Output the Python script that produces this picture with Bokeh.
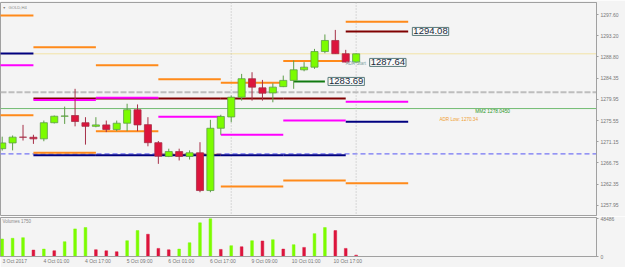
import math
from bokeh.plotting import figure
from bokeh.models import Range1d, FixedTicker, PrintfTickFormatter, Span, Label, ColumnDataSource
from bokeh.layouts import column
from bokeh.embed import file_html
from bokeh.resources import INLINE

# ---------------- data ----------------
symbol = "GOLD,H4"
bars = list(range(35))
opens = [1269.70, 1270.90, 1272.10, 1272.08, 1271.75, 1275.10, 1276.45, 1276.60, 1275.10, 1274.35,
         1274.65, 1273.70, 1275.00, 1277.80, 1274.70, 1270.95, 1268.10, 1269.10, 1268.10, 1268.85,
         1261.00, 1273.95, 1276.30, 1280.40, 1284.25, 1282.35, 1281.30, 1282.60, 1283.90, 1286.10,
         1286.65, 1289.90, 1292.20, 1289.45, 1287.70]
highs = [1272.20, 1272.45, 1274.65, 1272.60, 1275.55, 1276.60, 1278.45, 1282.15, 1276.25, 1276.25,
         1275.55, 1275.55, 1279.05, 1278.90, 1276.25, 1271.30, 1269.70, 1269.70, 1269.35, 1271.05,
         1275.70, 1276.75, 1280.75, 1285.25, 1285.60, 1284.00, 1283.30, 1284.90, 1288.05, 1287.70,
         1290.45, 1293.45, 1294.40, 1290.25, 1289.50]
lows = [1269.30, 1269.35, 1271.40, 1270.70, 1271.25, 1274.95, 1274.85, 1274.35, 1270.55, 1274.15,
        1273.15, 1273.35, 1273.35, 1273.35, 1270.20, 1266.55, 1267.95, 1267.25, 1267.45, 1260.65,
        1260.65, 1272.60, 1275.20, 1279.70, 1279.70, 1279.70, 1279.35, 1282.50, 1282.15, 1285.80,
        1286.30, 1289.55, 1289.40, 1287.65, 1287.60]
closes = [1270.90, 1272.10, 1272.08, 1271.75, 1275.10, 1276.45, 1276.50, 1275.35, 1274.35, 1274.65,
          1273.70, 1275.00, 1277.80, 1274.65, 1270.95, 1268.15, 1269.10, 1268.10, 1268.85, 1261.00,
          1273.95, 1276.40, 1280.40, 1284.25, 1282.50, 1281.25, 1282.50, 1283.90, 1286.10, 1286.65,
          1289.90, 1292.20, 1289.45, 1287.70, 1289.43]
volumes = [22500, 23400, 24200, 8200, 9500, 7400, 19000, 35500, 37200, 8700,
           7300, 6100, 20300, 33300, 28600, 10400, 8600, 9500, 17700, 43300,
           48486, 9100, 13900, 12500, 20300, 19900, 21600, 9500, 15200, 11700,
           29400, 37200, 33300, 10400, 1750]

time_tick_bars = [0, 4, 8, 12, 16, 20, 24, 28, 32]
time_tick_labels = ["3 Oct 2017", "4 Oct 01:00", "4 Oct 17:00", "5 Oct 09:00", "6 Oct 01:00",
                    "6 Oct 17:00", "9 Oct 09:00", "10 Oct 01:00", "10 Oct 17:00"]
price_ticks = [1257.95, 1262.35, 1266.75, 1271.15, 1275.55, 1279.95, 1284.35, 1288.80, 1293.20, 1297.60]
volume_ticks = [0, 48486]

day_start = [-3, 3, 9, 15, 21, 27, 33]
day_end = [3, 9, 15, 21, 27, 33, 39]
adr_high = [1297.39, 1290.80, 1287.06, 1284.15, 1283.40, 1287.93, 1296.08]
adr_low = [1276.66, 1268.85, 1273.34, 1268.43, 1261.84, 1263.09, 1262.53]
magenta_lvl = [1287.06, 1279.82, 1280.28, 1276.33, 1272.59, 1275.56, 1279.44]
maroon_lvl = [float("nan"), 1280.14, 1280.14, 1280.14, 1280.14, 1280.14, 1294.08]
navy_lvl = [1289.49, 1268.35, 1268.35, 1268.35, 1268.35, 1268.35, 1275.29]

signal_start = [28]
signal_end = [31]
signal_level = [1283.69]

current_price = 1289.43
mm2_level = 1278.0450
grey_dash_level = 1281.45
blue_dash_level = 1268.64
adr_start_level = 1287.64
adr_low_text_level = 1275.83
adr_low_value = 1270.34
marker_bars = [22, 34]

# ---------------- styles ----------------
FONT = "Liberation Sans"
BG = "#F4F4F4"
FRAME = "#A0A0A0"
BULL = "#7CFC00"
BEAR = "#DC143C"
BULL_LINE = "#5E9E48"
BEAR_LINE = "#A63048"
AXIS_TXT = "#777777"

x_range = Range1d(-0.163, 57.09)

p = figure(width=625, height=216, title=None, x_range=x_range, y_range=Range1d(1255.812, 1300.095),
           output_backend="svg", toolbar_location=None, x_axis_location=None, y_axis_location="right",
           min_border_left=0, min_border_right=29, min_border_top=2, min_border_bottom=1,
           background_fill_color=BG, border_fill_color=BG, outline_line_color=FRAME)
p.grid.visible = False
ya = p.yaxis[0]
ya.ticker = FixedTicker(ticks=price_ticks)
ya.formatter = PrintfTickFormatter(format="%.2f")
ya.axis_line_color = FRAME
ya.major_tick_line_color = FRAME
ya.major_tick_out = 2
ya.major_tick_in = 0
ya.minor_tick_line_color = None
ya.major_label_text_font = FONT
ya.major_label_text_font_size = "5px"
ya.major_label_text_color = AXIS_TXT
ya.major_label_standoff = 2

# full width lines
for loc, col, dash, lw in [(current_price, "#F2E3A6", "solid", 1),
                           (mm2_level, "#72BB72", "solid", 1),
                           (grey_dash_level, "#BDBDBD", "6 2", 2),
                           (blue_dash_level, "#7474F4", "5 3", 1.3)]:
    p.add_layout(Span(location=loc, dimension="width", line_color=col, line_dash=dash,
                      line_width=lw, level="underlay"))
for b in marker_bars:
    p.add_layout(Span(location=b, dimension="height", line_color="#B8B8B8", line_dash="1 2",
                      line_width=1, level="underlay"))

# level segments per day
p.segment(x0=day_start, x1=day_end, y0=adr_low, y1=adr_low, line_color="#FF8A1A", line_width=2)
p.segment(x0=day_start, x1=day_end, y0=navy_lvl, y1=navy_lvl, line_color="#000080", line_width=2)
p.segment(x0=day_start, x1=day_end, y0=maroon_lvl, y1=maroon_lvl, line_color="#800000", line_width=2)
p.segment(x0=day_start, x1=day_end, y0=magenta_lvl, y1=magenta_lvl, line_color="#FF00FF", line_width=2)
p.segment(x0=day_start, x1=day_end, y0=adr_high, y1=adr_high, line_color="#FF8A1A", line_width=2)
p.segment(x0=signal_start, x1=signal_end, y0=signal_level, y1=signal_level, line_color="#107A10", line_width=2)

# candles
up = [c >= o for o, c in zip(opens, closes)]
src = ColumnDataSource(dict(
    x=bars, high=highs, low=lows,
    top=[max(o, c) for o, c in zip(opens, closes)],
    bottom=[min(o, c) for o, c in zip(opens, closes)],
    fill=[BULL if u else BEAR for u in up],
    wick=[BULL_LINE if u else BEAR_LINE for u in up],
))
p.segment(x0="x", x1="x", y0="low", y1="high", line_color="wick", line_width=1, source=src)
p.vbar(x="x", top="top", bottom="bottom", width=0.68, fill_color="fill", line_color="wick",
       line_width=0.8, source=src)

# labels
def boxed(x, y, txt):
    p.add_layout(Label(x=x, y=y, text=txt, text_font=FONT, text_font_size="9.5px",
                       text_color="#1A2A3A", text_baseline="middle", text_align="left",
                       background_fill_color="#FAFAFA", border_line_color="#5A7A7A",
                       border_line_width=1, padding=1))

boxed(39.4, maroon_lvl[-1], f"{maroon_lvl[-1]:.2f}")
boxed(35.3, adr_start_level, f"{adr_start_level:.2f}")
boxed(31.3, signal_level[0], f"{signal_level[0]:.2f}")

p.add_layout(Label(x=33, y=adr_start_level - 0.2, text="ADR Start", text_font=FONT, text_font_size="4.5px",
                   text_color="#7FA3A3", text_baseline="middle", text_align="left"))
p.add_layout(Label(x=45.45, y=mm2_level, text=f"MM2 {mm2_level:.4f}", text_font=FONT,
                   text_font_size="4.8px", text_color="#2A962A", text_baseline="top", text_align="left"))
p.add_layout(Label(x=42.0, y=adr_low_text_level, text=f"ADR Low: {adr_low_value:.2f}", text_font=FONT,
                   text_font_size="4.6px", text_color="#F0A030", text_baseline="middle", text_align="left"))
p.add_layout(Label(x=2, y=208, x_units="screen", y_units="screen", text="\u25BC", text_font=FONT,
                   text_font_size="3.5px", text_color="#808080", text_baseline="middle"))
p.add_layout(Label(x=8, y=208, x_units="screen", y_units="screen", text=symbol, text_font=FONT,
                   text_font_size="4.2px", text_color="#888888", text_baseline="middle"))
p.add_layout(Label(x=598, y=current_price, x_units="screen", text=f"{current_price:.2f}", text_font=FONT,
                   text_font_size="5px", text_color="#FFFFFF", text_baseline="middle", text_align="left",
                   background_fill_color="#555555", padding=1))

# ---------------- volume pane ----------------
pv = figure(width=625, height=51, title=None, x_range=x_range, y_range=Range1d(0, 50158),
            output_backend="svg", toolbar_location=None, y_axis_location="right",
            min_border_left=0, min_border_right=29, min_border_top=1, min_border_bottom=11,
            background_fill_color=BG, border_fill_color=BG, outline_line_color=FRAME)
pv.grid.visible = False
vcol = [BULL if i == 0 or volumes[i] > volumes[i - 1] else BEAR for i in range(len(volumes))]
pv.vbar(x=bars, top=volumes, bottom=0, width=0.26, fill_color=vcol, line_color=vcol, line_width=0.5)

va = pv.yaxis[0]
va.ticker = FixedTicker(ticks=volume_ticks)
va.formatter = PrintfTickFormatter(format="%d")
va.axis_line_color = FRAME
va.major_tick_line_color = FRAME
va.major_tick_out = 2
va.major_tick_in = 0
va.minor_tick_line_color = None
va.major_label_text_font = FONT
va.major_label_text_font_size = "5px"
va.major_label_text_color = AXIS_TXT
va.major_label_standoff = 2

xa = pv.xaxis[0]
label_offset = 1.2
tick_pos = [b + label_offset for b in time_tick_bars]
xa.ticker = FixedTicker(ticks=tick_pos)
xa.major_label_overrides = {t: lab for t, lab in zip(tick_pos, time_tick_labels)}
xa.axis_line_color = FRAME
xa.major_tick_line_color = None
xa.major_tick_out = 0
xa.major_tick_in = 0
xa.minor_tick_line_color = None
xa.minor_tick_out = 0
xa.major_label_text_font = FONT
xa.major_label_text_font_size = "5px"
xa.major_label_text_color = AXIS_TXT
xa.major_label_standoff = 1

pv.add_layout(Label(x=2, y=35, x_units="screen", y_units="screen", text=f"Volumes {volumes[-1]}",
                    text_font=FONT, text_font_size="4.5px", text_color="#888888", text_baseline="middle"))

layout = column(p, pv, spacing=0)
open("out.html", "w").write(file_html(layout, INLINE))
